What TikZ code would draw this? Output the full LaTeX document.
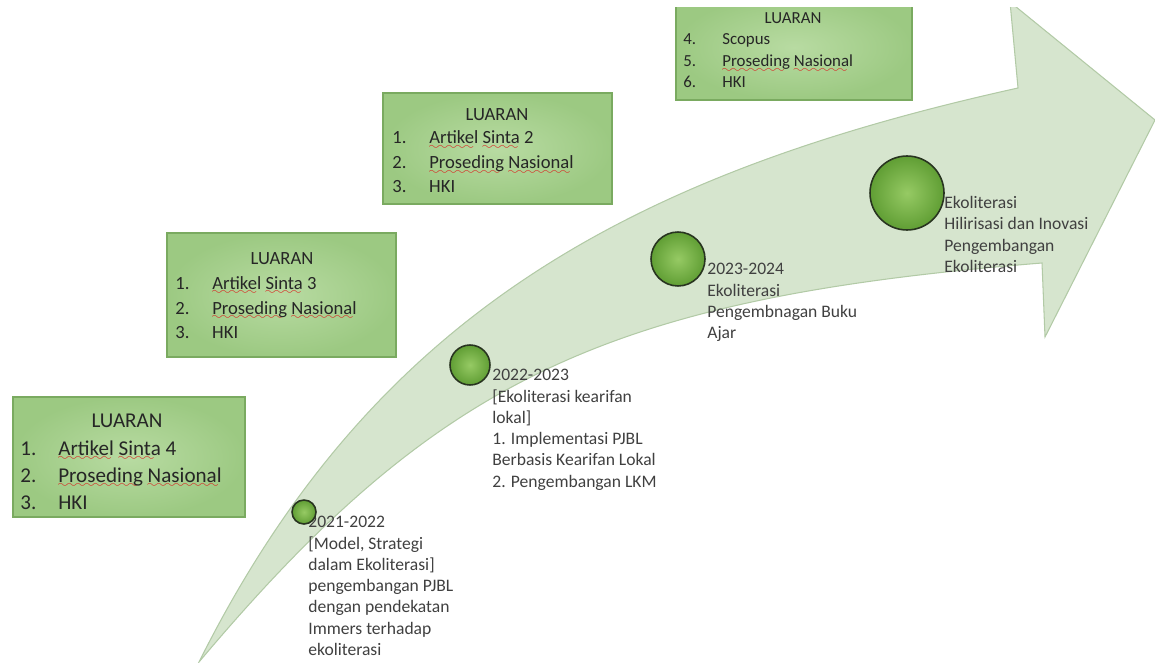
\documentclass[tikz,border=0pt]{standalone}
\usepackage{fontspec}
\setmainfont{Carlito}
\usetikzlibrary{fit}

\definecolor{arrowfill}{RGB}{214,229,206}
\definecolor{arrowedge}{RGB}{178,202,166}
\definecolor{boxin}{RGB}{184,219,162}
\definecolor{boxout}{RGB}{156,201,130}
\definecolor{boxedge}{RGB}{122,170,96}
\definecolor{ballin}{RGB}{150,202,100}
\definecolor{ballout}{RGB}{96,158,52}
\definecolor{ringdark}{RGB}{40,52,32}
\definecolor{textgray}{RGB}{64,64,64}
\definecolor{spellred}{RGB}{220,30,30}

\font\spellwave=lasy6
\newcommand{\spell}[1]{\setbox0\hbox{#1}\rlap{\textcolor{spellred}{\hbox to\wd0{\leaders\hbox{\lower3pt\hbox{\spellwave\char58}}\hfil}}}\box0\relax}
\newcommand{\nomor}[2]{\makebox[#1][l]{#2}}

\begin{document}
\begin{tikzpicture}[x=0.02cm,y=-0.02cm,
  luaranbox/.style={draw=boxedge, line width=0.6pt, inner color=boxin, outer color=boxout, inner sep=0pt},
  milestone/.style={circle, draw=ringdark, line width=0.9pt, inner color=ballin, outer color=ballout, inner sep=0pt},
  judul/.style={anchor=base, inner sep=0pt, text=black!85},
  butir/.style={anchor=base west, inner sep=0pt, text=black!85},
  ukuran/.style={font=\fontsize{#1}{#1}\selectfont},
  keterangan/.style={anchor=north west, inner sep=0pt, align=left, text=textgray, font=\fontsize{10}{12.1}\selectfont}]

% 画布大小
\useasboundingbox (0,0) rectangle (1155,662);
\begin{scope}
\clip (0,8) rectangle (1155,662);

% 绘制弯曲箭头
\filldraw[fill=arrowfill, draw=arrowedge, line width=0.6pt]
  (199,662) .. controls (369,322) and (619,176) .. (1018,88)
  -- (1010,2) -- (1155,120) -- (1045,337) -- (1042,263)
  .. controls (607,298) and (438,378) .. (199,662) -- cycle;

% 绘制 LUARAN 方框
\node[luaranbox, fit={(13,397) (245,517)}] (boxA) {};
\node[luaranbox, fit={(167,233) (396,357)}] (boxB) {};
\node[luaranbox, fit={(383,93) (612,204)}] (boxC) {};
\node[luaranbox, fit={(676,-5) (912,100)}] (boxD) {};

% 方框文字
\node[judul, ukuran=12] (judulA) at (127,427) {LUARAN};
\node[butir, ukuran=12] (a1) at (20,455) {\nomor{21.6pt}{1.}\spell{Artikel} \spell{Sinta} 4};
\node[butir, ukuran=12] (a2) at (20,482) {\nomor{21.6pt}{2.}\spell{Proseding} \spell{Nasional}};
\node[butir, ukuran=12] (a3) at (20,509) {\nomor{21.6pt}{3.}HKI};

\node[judul, ukuran=10.6] (judulB) at (282,264) {LUARAN};
\node[butir, ukuran=10.6] (b1) at (175,289) {\nomor{21pt}{1.}\spell{Artikel} \spell{Sinta} 3};
\node[butir, ukuran=10.6] (b2) at (175,314) {\nomor{21pt}{2.}\spell{Proseding} \spell{Nasional}};
\node[butir, ukuran=10.6] (b3) at (175,338) {\nomor{21pt}{3.}HKI};

\node[judul, ukuran=10.6] (judulC) at (497,121) {LUARAN};
\node[butir, ukuran=10.6] (c1) at (392,144) {\nomor{21pt}{1.}\spell{Artikel} \spell{Sinta} 2};
\node[butir, ukuran=10.6] (c2) at (392,169) {\nomor{21pt}{2.}\spell{Proseding} \spell{Nasional}};
\node[butir, ukuran=10.6] (c3) at (392,193) {\nomor{21pt}{3.}HKI};

\node[judul, ukuran=9.6] (judulD) at (793,24) {LUARAN};
\node[butir, ukuran=9.6] (d1) at (683,45) {\nomor{22.2pt}{4.}Scopus};
\node[butir, ukuran=9.6] (d2) at (683,67) {\nomor{22.2pt}{5.}\spell{Proseding} \spell{Nasional}};
\node[butir, ukuran=9.6] (d3) at (683,88) {\nomor{22.2pt}{6.}HKI};

% 各阶段说明
\node[keterangan] (teks1) at (308,516) {2021-2022\\{}[Model, Strategi\\dalam Ekoliterasi]\\pengembangan PJBL\\dengan pendekatan\\Immers terhadap\\ekoliterasi};
\node[keterangan] (teks2) at (492,369) {2022-2023\\{}[Ekoliterasi kearifan\\lokal]\\1. Implementasi PJBL\\Berbasis Kearifan Lokal\\2. Pengembangan LKM};
\node[keterangan] (teks3) at (707,263) {2023-2024\\Ekoliterasi\\Pengembnagan Buku\\Ajar};
\node[keterangan] (teks4) at (944,196) {Ekoliterasi\\Hilirisasi dan Inovasi\\Pengembangan\\Ekoliterasi};

% 阶段圆点
\node[milestone, minimum size=0.48cm] (tahap1) at (304,512) {};
\node[milestone, minimum size=0.8cm] (tahap2) at (470,365) {};
\node[milestone, minimum size=1.08cm] (tahap3) at (678,259) {};
\node[milestone, minimum size=1.48cm] (tahap4) at (907,193) {};

\end{scope}
\end{tikzpicture}
\end{document}
